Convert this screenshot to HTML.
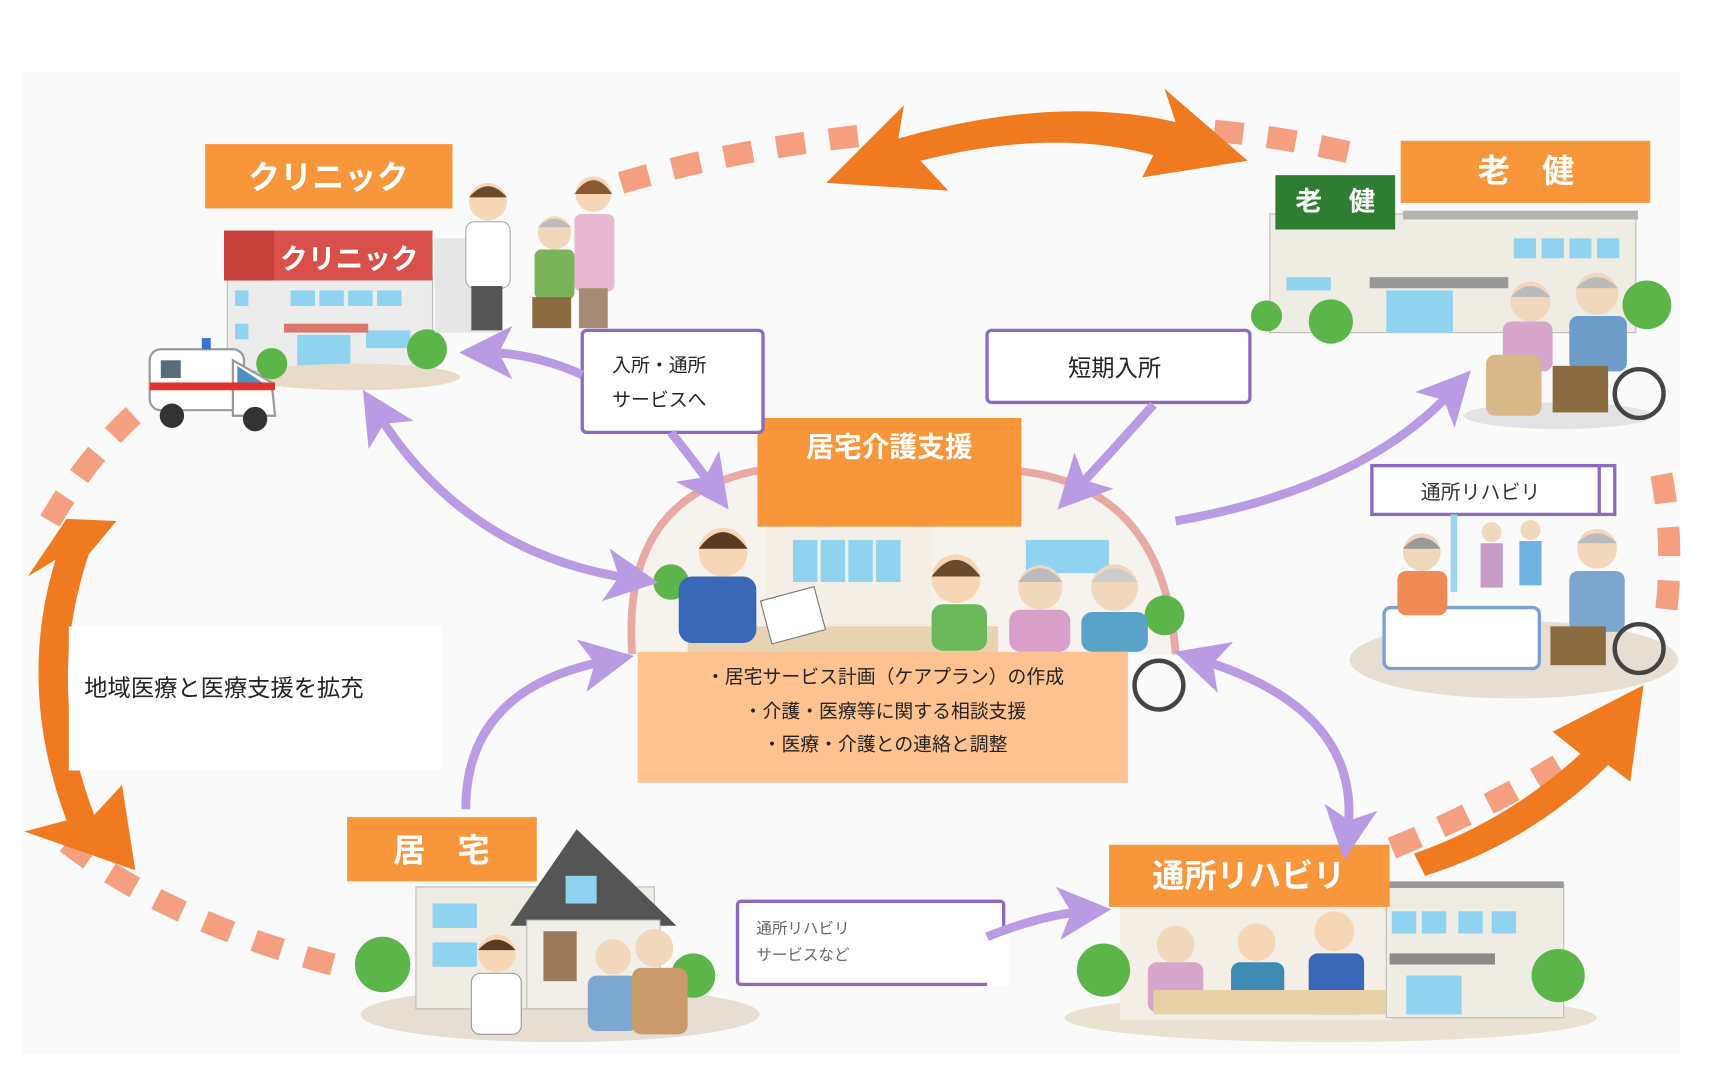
<!DOCTYPE html>
<html><head><meta charset="utf-8">
<style>
html,body{margin:0;padding:0;background:#fff;}
svg{display:block;}
text{font-family:"Liberation Sans","Noto Sans CJK JP",sans-serif;}
</style></head><body>
<svg width="1719" height="1092" viewBox="0 0 1550 985" preserveAspectRatio="none" xmlns="http://www.w3.org/2000/svg">
<defs>
<marker id="pa" markerWidth="6" markerHeight="6" refX="3" refY="3" orient="auto" markerUnits="strokeWidth"><path d="M0,0 L6,3 L0,6 L1.5,3 Z" fill="#b99be3"/></marker>
<marker id="ps" markerWidth="6" markerHeight="6" refX="3" refY="3" orient="auto-start-reverse" markerUnits="strokeWidth"><path d="M0,0 L6,3 L0,6 L1.5,3 Z" fill="#b99be3"/></marker>
</defs>
<rect x="0" y="0" width="1550" height="985" fill="#fff"/>
<rect x="20" y="65" width="1495" height="885" fill="#fafafb"/>

<!-- dashed salmon circle arcs -->
<g fill="none" stroke="#f4a080" stroke-width="20" stroke-dasharray="26,22">
<path d="M300,870 Q150,830 60,760"/>
<path d="M45,470 Q80,410 125,370"/>
<path d="M560,165 Q660,135 780,122"/>
<path d="M1095,118 Q1170,125 1235,142"/>
<path d="M1498,428 Q1510,490 1502,555"/>
<path d="M1255,765 Q1340,730 1405,690"/>
</g>

<!-- orange big arrows -->
<g fill="#ef7a1f">
<path d="M745,165 L815,95 L810,125 Q950,85 1060,110 L1050,80 L1125,145 L1030,160 L1040,140 Q950,115 830,145 L855,172 Z"/>
<path d="M60,468 L105,470 L80,500 Q40,620 85,735 L110,708 L122,785 L22,750 L60,740 Q15,620 50,505 L25,520 Z"/>
<path d="M1275,770 Q1360,740 1425,680 L1400,660 L1482,618 L1470,705 L1450,690 Q1380,760 1285,790 Z"/>
</g>

<!-- clinic -->
<rect x="185" y="130" width="223" height="58" fill="#f7963a"/>
<text x="296" y="170" text-anchor="middle" font-size="29" font-weight="bold" fill="#fff">クリニック</text>
<rect x="205" y="250" width="185" height="85" fill="#ececec" stroke="#bbb"/>
<rect x="202" y="208" width="188" height="45" fill="#d94f4a"/>
<rect x="202" y="208" width="45" height="45" fill="#c8403c"/>
<text x="315" y="242" text-anchor="middle" font-size="25" font-weight="bold" fill="#fff">クリニック</text>
<g fill="#8fd3f0"><rect x="262" y="262" width="22" height="14"/><rect x="288" y="262" width="22" height="14"/><rect x="314" y="262" width="22" height="14"/><rect x="340" y="262" width="22" height="14"/><rect x="268" y="302" width="48" height="30"/><rect x="330" y="298" width="40" height="16"/><rect x="212" y="262" width="12" height="14"/><rect x="212" y="292" width="12" height="14"/></g>
<rect x="256" y="292" width="76" height="8" fill="#d9776b"/>
<ellipse cx="320" cy="340" rx="95" ry="12" fill="#e8dcc8"/>
<circle cx="245" cy="328" r="14" fill="#5bb548"/><circle cx="385" cy="315" r="18" fill="#5bb548"/>
<!-- people at clinic -->
<rect x="392" y="215" width="60" height="85" fill="#e6e6e6"/>
<circle cx="440" cy="182" r="17" fill="#f6d6b5"/><path d="M423,178 Q440,158 457,178 Z" fill="#6b4a2b"/>
<rect x="420" y="200" width="40" height="60" rx="8" fill="#fff" stroke="#aaa"/>
<rect x="425" y="258" width="28" height="40" fill="#555"/>
<circle cx="500" cy="210" r="15" fill="#f1d7bb"/><path d="M485,205 Q500,190 515,205Z" fill="#bbb"/>
<rect x="482" y="225" width="36" height="45" rx="6" fill="#7bb35a"/><rect x="480" y="268" width="35" height="28" fill="#8b6b40"/>
<circle cx="535" cy="175" r="16" fill="#f6d6b5"/><path d="M518,175 Q535,150 552,175Z" fill="#8a5a35"/>
<rect x="518" y="193" width="36" height="70" rx="6" fill="#e7b9d1"/><rect x="522" y="260" width="26" height="36" fill="#a58b74"/>
<!-- ambulance -->
<g><rect x="135" y="315" width="85" height="55" rx="10" fill="#fff" stroke="#999" stroke-width="2"/><path d="M210,325 L245,345 L248,375 L210,375 Z" fill="#fff" stroke="#999" stroke-width="2"/><path d="M214,330 L238,346 L214,350Z" fill="#4e8fc2"/><rect x="135" y="345" width="113" height="7" fill="#e0322c"/><rect x="145" y="325" width="18" height="16" fill="#5a6c7a"/><rect x="182" y="305" width="8" height="10" fill="#3b6fd0"/><circle cx="155" cy="375" r="11" fill="#333"/><circle cx="230" cy="378" r="11" fill="#333"/></g>

<!-- rouken -->
<rect x="1263" y="127" width="225" height="56" fill="#f7963a"/>
<text x="1376" y="164" text-anchor="middle" font-size="29" font-weight="bold" fill="#fff">老　健</text>
<rect x="1145" y="193" width="330" height="107" fill="#efece4" stroke="#bbb"/>
<rect x="1265" y="190" width="212" height="8" fill="#b5b5b5"/>
<rect x="1150" y="158" width="108" height="49" fill="#2f7d32"/>
<text x="1204" y="190" text-anchor="middle" font-size="24" font-weight="bold" fill="#fff">老　健</text>
<g fill="#8fd3f0"><rect x="1365" y="215" width="20" height="18"/><rect x="1390" y="215" width="20" height="18"/><rect x="1415" y="215" width="20" height="18"/><rect x="1440" y="215" width="20" height="18"/><rect x="1160" y="250" width="40" height="12"/><rect x="1250" y="262" width="60" height="38"/></g>
<rect x="1235" y="250" width="125" height="10" fill="#999"/>
<circle cx="1142" cy="285" r="14" fill="#5bb548"/><circle cx="1200" cy="290" r="20" fill="#5bb548"/><circle cx="1485" cy="275" r="22" fill="#5bb548"/>
<ellipse cx="1405" cy="375" rx="85" ry="12" fill="#e3e3e3"/>
<circle cx="1380" cy="272" r="18" fill="#f1d7bb"/><path d="M1362,268 Q1380,248 1398,268Z" fill="#bbb"/>
<rect x="1355" y="290" width="45" height="45" rx="8" fill="#d6a6cc"/><rect x="1340" y="320" width="50" height="55" rx="8" fill="#d8b888"/>
<circle cx="1440" cy="265" r="19" fill="#f1d7bb"/><path d="M1421,260 Q1440,240 1459,260Z" fill="#bbb"/>
<rect x="1415" y="285" width="52" height="50" rx="8" fill="#6e9cc8"/><rect x="1400" y="330" width="50" height="42" fill="#8b6b40"/>
<circle cx="1478" cy="355" r="22" fill="none" stroke="#444" stroke-width="4"/>

<!-- tsusho small box -->
<rect x="1237" y="420" width="219" height="44" fill="#fff" stroke="#8b6ac0" stroke-width="3"/>
<line x1="1442" y1="420" x2="1442" y2="464" stroke="#8b6ac0" stroke-width="3"/>
<text x="1335" y="450" text-anchor="middle" font-size="18" fill="#333">通所リハビリ</text>
<ellipse cx="1365" cy="595" rx="148" ry="35" fill="#e6ddd3"/>
<rect x="1248" y="548" width="140" height="55" rx="6" fill="#fff" stroke="#7aa0d8" stroke-width="3"/>
<rect x="1308" y="464" width="6" height="70" fill="#9fd3f0"/>
<circle cx="1282" cy="498" r="17" fill="#f1d7bb"/><path d="M1265,495 Q1282,475 1299,495Z" fill="#999"/><rect x="1260" y="515" width="45" height="40" rx="8" fill="#f08a55"/>
<circle cx="1345" cy="480" r="9" fill="#f1d7bb"/><rect x="1335" y="490" width="20" height="40" fill="#c89ac6"/>
<circle cx="1380" cy="478" r="9" fill="#f1d7bb"/><rect x="1370" y="488" width="20" height="40" fill="#6fb3e0"/>
<circle cx="1440" cy="495" r="18" fill="#f1d7bb"/><path d="M1422,490 Q1440,472 1458,490Z" fill="#bbb"/>
<rect x="1415" y="515" width="50" height="55" rx="8" fill="#7da6cf"/><rect x="1398" y="565" width="50" height="35" fill="#8b6b40"/>
<circle cx="1478" cy="585" r="22" fill="none" stroke="#444" stroke-width="4"/>

<!-- center scene -->
<path d="M570,590 Q560,450 680,425 L920,425 Q1050,440 1060,590" fill="#f6f2ee" stroke="#e8a8a3" stroke-width="7"/>
<rect x="690" y="475" width="150" height="100" fill="#f3efe6"/>
<g fill="#8fd3f0"><rect x="715" y="487" width="22" height="38"/><rect x="740" y="487" width="22" height="38"/><rect x="765" y="487" width="22" height="38"/><rect x="790" y="487" width="22" height="38"/><rect x="925" y="487" width="75" height="30"/></g>
<rect x="620" y="565" width="280" height="25" fill="#e7d3b1"/>
<circle cx="605" cy="525" r="16" fill="#5bb548"/><circle cx="1050" cy="555" r="18" fill="#5bb548"/>
<circle cx="652" cy="498" r="22" fill="#f6d6b5"/><path d="M630,495 Q652,465 674,495Z" fill="#5a3a20"/>
<rect x="612" y="520" width="70" height="60" rx="12" fill="#3a68b8"/>
<rect x="690" y="535" width="50" height="40" fill="#fff" stroke="#777" transform="rotate(-15 715 555)"/>
<circle cx="862" cy="522" r="22" fill="#f6d6b5"/><path d="M840,520 Q862,490 884,520Z" fill="#6b4a2b"/>
<rect x="840" y="545" width="50" height="42" rx="10" fill="#6ab85a"/>
<circle cx="938" cy="530" r="20" fill="#f1d7bb"/><path d="M918,525 Q938,500 958,525Z" fill="#bbb"/>
<rect x="910" y="550" width="55" height="38" rx="10" fill="#d8a0c8"/>
<circle cx="1005" cy="530" r="21" fill="#f1d7bb"/><path d="M984,525 Q1005,500 1026,525Z" fill="#ccc"/>
<rect x="975" y="552" width="60" height="36" rx="10" fill="#5aa3c8"/>
<circle cx="1045" cy="618" r="22" fill="none" stroke="#444" stroke-width="4"/>
<rect x="683" y="377" width="238" height="98" fill="#f7963a"/>
<text x="802" y="412" text-anchor="middle" font-size="25" font-weight="bold" fill="#fff">居宅介護支援</text>
<rect x="575" y="588" width="442" height="118" fill="#fdc28f"/>
<g font-size="17" fill="#222" text-anchor="middle">
<text x="798" y="616">・居宅サービス計画（ケアプラン）の作成</text>
<text x="798" y="647">・介護・医療等に関する相談支援</text>
<text x="798" y="677">・医療・介護との連絡と調整</text>
</g>

<!-- boxes -->
<rect x="525" y="298" width="163" height="92" rx="4" fill="#fff" stroke="#8b6ac0" stroke-width="3"/>
<text x="552" y="335" font-size="17" fill="#222">入所・通所</text>
<text x="552" y="366" font-size="17" fill="#222">サービスへ</text>
<rect x="890" y="298" width="237" height="65" rx="4" fill="#fff" stroke="#8b6ac0" stroke-width="3"/>
<text x="1005" y="339" text-anchor="middle" font-size="21" fill="#222">短期入所</text>
<rect x="62" y="565" width="336" height="130" fill="#fff"/>
<text x="76" y="628" font-size="21" fill="#222">地域医療と医療支援を拡充</text>

<!-- kyotaku -->
<ellipse cx="505" cy="915" rx="180" ry="25" fill="#e6ddd3"/>
<rect x="375" y="800" width="215" height="110" fill="#efece4" stroke="#bbb"/>
<path d="M460,835 L520,748 L610,835 Z" fill="#555"/><rect x="475" y="830" width="120" height="80" fill="#f2efe8" stroke="#bbb"/>
<g fill="#8fd3f0"><rect x="390" y="815" width="40" height="22"/><rect x="390" y="850" width="40" height="22"/><rect x="510" y="790" width="28" height="25"/><rect x="490" y="840" width="30" height="45" fill="#9a7a5a"/></g>
<circle cx="345" cy="870" r="25" fill="#5bb548"/><circle cx="625" cy="880" r="20" fill="#5bb548"/>
<circle cx="448" cy="860" r="17" fill="#f6d6b5"/><path d="M431,857 Q448,838 465,857Z" fill="#5a3a20"/><rect x="425" y="878" width="45" height="55" rx="8" fill="#fff" stroke="#999"/>
<circle cx="553" cy="863" r="16" fill="#f1d7bb"/><rect x="530" y="880" width="45" height="50" rx="8" fill="#7ba7d0"/>
<circle cx="590" cy="855" r="17" fill="#f1d7bb"/><rect x="570" y="873" width="50" height="60" rx="8" fill="#c99a6a"/>
<rect x="313" y="737" width="171" height="58" fill="#f7963a"/>
<text x="398" y="777" text-anchor="middle" font-size="29" font-weight="bold" fill="#fff">居　宅</text>

<!-- tsusho rehab -->
<ellipse cx="1200" cy="918" rx="240" ry="22" fill="#e9e2d3"/>
<rect x="1010" y="815" width="245" height="105" fill="#f3efe6"/>
<rect x="1250" y="798" width="160" height="120" fill="#efece4" stroke="#bbb"/>
<rect x="1248" y="795" width="162" height="6" fill="#999"/>
<g fill="#8fd3f0"><rect x="1255" y="822" width="22" height="20"/><rect x="1282" y="822" width="22" height="20"/><rect x="1315" y="822" width="22" height="20"/><rect x="1345" y="822" width="22" height="20"/><rect x="1268" y="880" width="50" height="35"/></g>
<rect x="1253" y="860" width="95" height="10" fill="#8a8a8a"/>
<circle cx="995" cy="875" r="24" fill="#5bb548"/><circle cx="1405" cy="880" r="24" fill="#5bb548"/>
<circle cx="1060" cy="852" r="17" fill="#f1d7bb"/><rect x="1035" y="868" width="50" height="45" rx="8" fill="#d6a6cc"/>
<circle cx="1133" cy="850" r="17" fill="#f6d6b5"/><rect x="1110" y="868" width="48" height="45" rx="8" fill="#3d8bb0"/>
<circle cx="1203" cy="840" r="18" fill="#f6d6b5"/><rect x="1180" y="860" width="50" height="55" rx="8" fill="#3a68b8"/>
<rect x="1040" y="893" width="210" height="22" fill="#e7cfa6"/>
<rect x="1000" y="762" width="253" height="56" fill="#f7963a"/>
<text x="1126" y="800" text-anchor="middle" font-size="29" font-weight="bold" fill="#fff">通所リハビリ</text>
<rect x="665" y="813" width="240" height="75" rx="3" fill="#fff" stroke="#8b6ac0" stroke-width="3"/>
<rect x="890" y="840" width="20" height="50" fill="#fff"/>
<text x="682" y="842" font-size="14" fill="#666">通所リハビリ</text>
<text x="682" y="866" font-size="14" fill="#666">サービスなど</text>

<!-- purple arrows -->
<g fill="none" stroke="#b99be3" stroke-width="8">
<path d="M525,338 Q480,318 438,318" marker-end="url(#pa)"/>
<path d="M605,390 Q625,415 643,440" marker-end="url(#pa)"/>
<path d="M340,372 Q420,500 570,522" marker-start="url(#ps)" marker-end="url(#pa)"/>
<path d="M1040,365 Q1000,410 970,442" marker-end="url(#pa)"/>
<path d="M1060,470 Q1230,440 1310,352" marker-end="url(#pa)"/>
<path d="M420,730 Q420,620 548,596" marker-end="url(#pa)"/>
<path d="M1082,595 Q1230,640 1215,752" marker-start="url(#ps)" marker-end="url(#pa)"/>
<path d="M890,845 Q940,825 978,822" marker-end="url(#pa)"/>
</g>
</svg>
</body></html>
